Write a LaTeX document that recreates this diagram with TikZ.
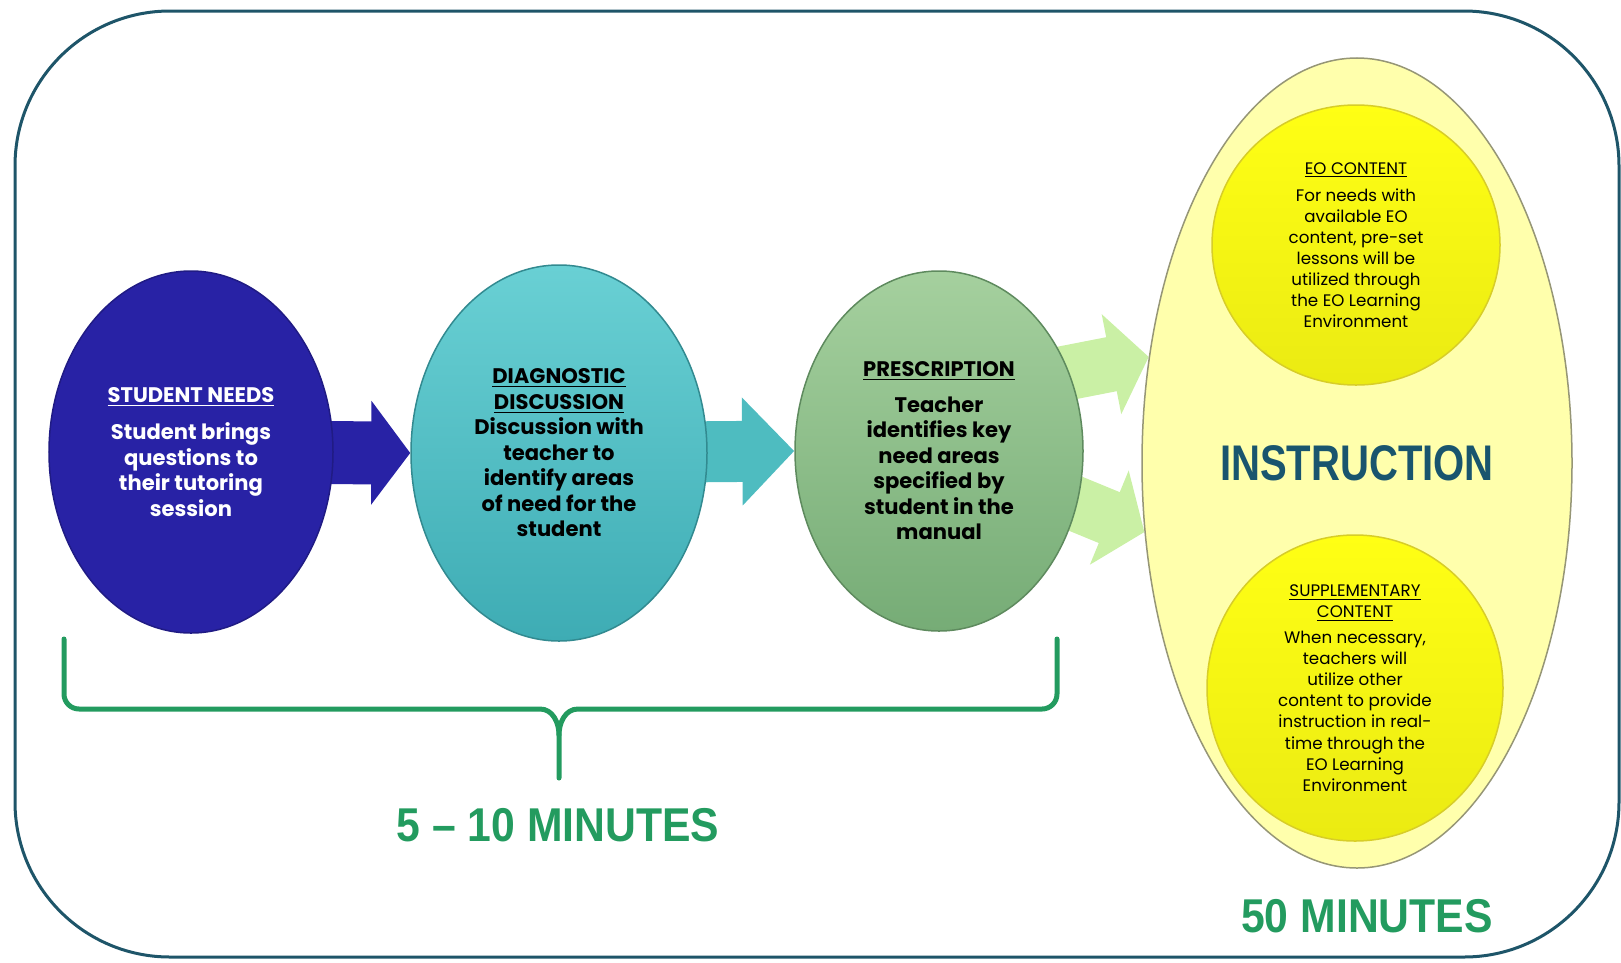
\documentclass[tikz,border=0pt]{standalone}
\usepackage{fontspec}
\setmainfont{Poppins}
\newfontfamily\arialfont{Liberation Sans}
\usetikzlibrary{shapes.geometric, arrows.meta, backgrounds}

\definecolor{framecol}{RGB}{30,85,105}
\definecolor{needblue}{RGB}{40,34,165}
\definecolor{diagtop}{RGB}{105,208,212}
\definecolor{diagbot}{RGB}{62,172,180}
\definecolor{diagarrow}{RGB}{78,188,192}
\definecolor{prestop}{RGB}{165,208,158}
\definecolor{presbot}{RGB}{118,172,118}
\definecolor{lightgreen}{RGB}{202,240,165}
\definecolor{instrfill}{RGB}{255,255,172}
\definecolor{instrline}{RGB}{150,150,118}
\definecolor{eoyellow}{RGB}{255,255,20}
\definecolor{eoline}{RGB}{215,205,40}
\definecolor{minutegreen}{RGB}{35,155,95}
\definecolor{instrtext}{RGB}{25,85,110}

\begin{document}
\begin{tikzpicture}[x=0.2mm, y=-0.2mm]
\tikzstyle{every node}+=[inner sep=0pt, align=center]
\tikzstyle{stage}=[ellipse, line width=0.3mm, font=\fontsize{12}{14.5}\selectfont\bfseries]
\tikzstyle{content}=[ellipse, draw=eoline, line width=0.3mm, top color=eoyellow, bottom color=eoyellow!92!black, font=\fontsize{9.5}{12}\selectfont]
\tikzstyle{blockarrow}=[line width=12.6mm, -{Triangle[length=7.8mm, width=20.4mm]}]
\tikzstyle{sidearrow}=[lightgreen, line width=11mm, -{Triangle[length=7.6mm, width=20mm]}]
\tikzstyle{brace}=[minutegreen, line width=1mm, line cap=round]
\tikzstyle{minutes}=[minutegreen, font=\arialfont\bfseries\fontsize{27}{30}\selectfont]
\useasboundingbox (0,0) rectangle (1621,962);
\draw [framecol, line width=0.6mm, rounded corners=31mm] (15,11) rectangle (1619,957);

\node [stage, minimum width=56.8mm, minimum height=72.4mm, fill=needblue, draw=needblue!80!black, text=white] (sn) at (191,452)
  {\underline{STUDENT NEEDS}\\[2.4mm] Student brings\\questions to\\their tutoring\\session};
\node [stage, minimum width=59.2mm, minimum height=75.2mm, top color=diagtop, bottom color=diagbot, draw=diagbot!80!black] (dd) at (559,453)
  {\underline{DIAGNOSTIC}\\\underline{DISCUSSION}\\Discussion with\\teacher to\\identify areas\\of need for the\\student};
\node [stage, minimum width=57.6mm, minimum height=72mm, top color=prestop, bottom color=presbot, draw=presbot!80!black] (pr) at (939,451)
  {\underline{PRESCRIPTION}\\[2mm] Teacher\\identifies key\\need areas\\specified by\\student in the\\manual};

\node [ellipse, minimum width=86mm, minimum height=162mm, fill=instrfill, draw=instrline, line width=0.3mm] (instr) at (1357,463)
  {\arialfont\bfseries\fontsize{28.5}{32}\selectfont\color{instrtext}\scalebox{0.8}[1]{INSTRUCTION}};
\node [content, minimum width=57.6mm, minimum height=56mm] (eo) at (1356,245)
  {\underline{EO CONTENT}\\[1.2mm] For needs with\\available EO\\content, pre-set\\lessons will be\\utilized through\\the EO Learning\\Environment};
\node [content, minimum width=59.2mm, minimum height=61.2mm] (sup) at (1355,688)
  {\underline{SUPPLEMENTARY}\\\underline{CONTENT}\\[1mm] When necessary,\\teachers will\\utilize other\\content to provide\\instruction in real-\\time through the\\EO Learning\\Environment};

\coordinate (up0) at (1051,376);
\coordinate (lo0) at (1052,494);
\begin{scope}[on background layer]
\draw [blockarrow, needblue] (sn.center) -- (dd.west);
\draw [blockarrow, diagarrow, line width=12.2mm, -{Triangle[length=10.4mm, width=21mm]}] (dd.center) -- (pr.west);
\draw [sidearrow] (up0) -- (instr.153);
\draw [sidearrow] (lo0) -- (instr.198);
\end{scope}

\coordinate (bl) at (64,639);
\coordinate (br) at (1057,639);
\coordinate (bt) at (559,778);
\draw [brace] (bl) -- (64,694) to[out=-90, in=180] (79,709) -- (540,709) to[out=0, in=90] (559,735) -- (bt);
\draw [brace] (br) -- (1057,694) to[out=-90, in=0] (1042,709) -- (578,709) to[out=180, in=90] (559,735);

\node [minutes] (short) at (558,825) {\scalebox{0.9}[1]{5 – 10 MINUTES}};
\node [minutes] (long) at (1367,916) {\scalebox{0.9}[1]{50 MINUTES}};
\end{tikzpicture}
\end{document}
